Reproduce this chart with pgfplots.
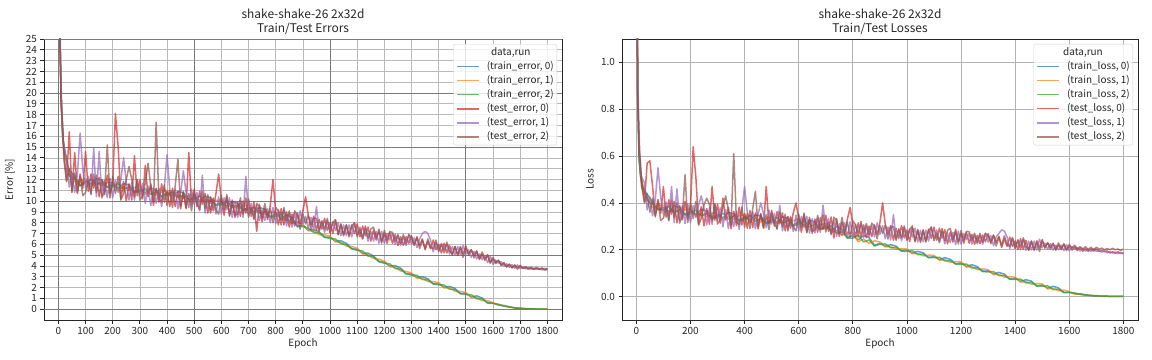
\documentclass[border=0pt]{standalone}
\usepackage{pgfplots}
\usepackage{pgfplotstable}
\pgfplotsset{compat=1.18}
\usepackage{fontspec}
\setmainfont{Noto Sans CJK JP}
\definecolor{c0}{HTML}{1F77B4}
\definecolor{c1}{HTML}{FF7F0E}
\definecolor{c2}{HTML}{2CA02C}
\definecolor{c3}{HTML}{D62728}
\definecolor{c4}{HTML}{9467BD}
\definecolor{c5}{HTML}{8C564B}
\definecolor{txt}{HTML}{262626}

\pgfplotstableread{
e te0 te1 te2 tl0 tl1 tl2
0 45 44 46 1.9 1.85 1.95
5 26 27.5 25.5 0.88 0.93 0.86
10 19.5 20.8 18.6 0.66 0.70 0.62
15 16.8 15.9 17.5 0.55 0.53 0.58
20 14.6 15.2 13.9 0.49 0.51 0.47
30 11.9 13.8 11.8 0.405 0.485 0.40
40 16.4 11.3 13.0 0.57 0.37 0.44
50 10.8 12.6 11.0 0.58 0.425 0.36
60 14.5 10.8 12.6 0.47 0.345 0.42
70 10.8 12.5 10.7 0.345 0.415 0.34
80 12.5 16.3 12.3 0.415 0.55 0.405
90 11.2 12.9 10.5 0.355 0.425 0.325
100 14.6 11.2 10.8 0.47 0.35 0.335
110 10.9 12.3 11.9 0.339 0.404 0.384
120 12.5 10.6 10.7 0.413 0.323 0.328
130 11.2 14.9 12.5 0.352 0.47 0.412
140 12.4 10.4 10.8 0.406 0.316 0.336
150 10.4 14.6 12.2 0.315 0.46 0.40
160 12.0 10.5 10.3 0.389 0.324 0.314
170 10.6 11.9 10.9 0.328 0.388 0.343
180 12.4 10.3 15.2 0.407 0.312 0.52
190 10.7 12.1 10.3 0.331 0.396 0.316
200 11.7 10.3 12.3 0.38 0.315 0.40
210 18.1 11.9 10.7 0.64 0.389 0.334
220 15.0 10.8 12.3 0.51 0.337 0.407
230 10.2 12.0 10.1 0.31 0.39 0.305
240 11.8 14.0 10.7 0.384 0.43 0.334
250 10.0 11.7 12.0 0.302 0.377 0.392
260 11.6 10.1 13.2 0.376 0.306 0.42
270 10.1 11.7 12.0 0.309 0.379 0.394
280 14.2 10.1 10.4 0.47 0.308 0.323
290 10.5 12.0 12.0 0.326 0.396 0.396
300 12.0 10.5 10.1 0.395 0.325 0.31
310 10.2 11.6 10.5 0.314 0.379 0.329
320 13.3 9.8 11.7 0.42 0.298 0.383
330 10.4 11.4 13.5 0.327 0.372 0.43
340 11.6 9.6 11.4 0.381 0.291 0.371
350 9.6 11.0 9.9 0.29 0.355 0.305
360 11.2 9.8 17.3 0.364 0.299 0.61
370 9.9 11.2 10.2 0.303 0.363 0.318
380 11.6 9.5 9.9 0.382 0.287 0.307
390 9.9 11.3 11.5 0.306 0.371 0.381
400 10.9 14.3 9.6 0.355 0.47 0.295
410 9.5 11.1 11.0 0.292 0.359 0.355
420 11.2 10.0 9.4 0.367 0.316 0.291
430 9.5 11.1 11.4 0.295 0.362 0.375
440 10.9 9.3 13.9 0.357 0.29 0.45
450 9.3 10.8 9.5 0.289 0.352 0.297
460 10.8 12.8 10.9 0.351 0.40 0.355
470 9.4 10.8 9.3 0.295 0.354 0.291
480 14.5 9.4 10.7 0.47 0.295 0.35
490 9.7 11.1 9.1 0.311 0.37 0.286
500 11.1 9.7 10.8 0.369 0.31 0.356
510 9.5 10.8 9.8 0.301 0.355 0.313
520 10.9 9.1 9.2 0.363 0.287 0.291
530 9.7 12.4 10.9 0.311 0.39 0.362
540 10.7 8.9 9.3 0.357 0.281 0.298
550 8.9 10.2 10.6 0.281 0.335 0.352
560 10.4 9.1 8.9 0.343 0.288 0.28
570 9.1 10.3 10.2 0.292 0.342 0.338
580 10.7 8.8 9.2 0.358 0.278 0.295
590 12.5 10.4 8.8 0.40 0.348 0.281
600 10.1 8.8 10.5 0.335 0.28 0.352
610 8.7 10.3 9.2 0.275 0.342 0.296
620 10.4 9.2 10.6 0.349 0.298 0.357
630 8.7 10.3 8.6 0.276 0.343 0.272
640 10.1 8.5 9.9 0.338 0.271 0.33
650 8.5 10.0 8.7 0.27 0.333 0.278
660 9.9 8.5 8.8 0.331 0.272 0.285
670 8.6 10.0 10.3 0.275 0.334 0.347
680 10.0 8.5 8.8 0.337 0.274 0.287
690 8.9 12.3 10.3 0.289 0.39 0.348
700 10.2 8.8 8.5 0.347 0.288 0.276
710 8.6 9.8 9.4 0.279 0.333 0.317
720 9.9 8.3 8.4 0.34 0.264 0.268
730 7.2 9.6 9.8 0.25 0.326 0.339
740 9.7 8.2 9.5 0.333 0.257 0.324
750 8.1 9.2 8.4 0.256 0.311 0.269
760 9.3 8.2 9.8 0.317 0.262 0.338
770 8.3 9.3 8.5 0.266 0.316 0.278
780 9.6 8.0 9.3 0.331 0.251 0.318
790 12.0 9.4 8.0 0.38 0.32 0.254
800 9.0 7.9 9.4 0.307 0.252 0.324
810 7.8 9.2 9.1 0.255 0.309 0.306
820 9.3 8.3 7.8 0.315 0.274 0.254
830 7.8 9.2 9.4 0.256 0.311 0.321
840 9.0 7.7 8.2 0.306 0.252 0.272
850 7.6 8.9 9.1 0.251 0.302 0.312
860 8.8 7.6 7.9 0.301 0.253 0.264
870 7.7 8.9 9.1 0.256 0.303 0.314
880 8.9 7.6 8.7 0.306 0.255 0.299
890 7.9 9.1 7.4 0.267 0.315 0.247
900 9.1 7.9 8.8 0.314 0.266 0.304
910 10.4 8.6 7.9 0.40 0.303 0.269
920 8.7 7.5 8.7 0.309 0.247 0.305
930 7.8 8.5 7.4 0.267 0.297 0.246
940 8.6 7.3 8.4 0.303 0.242 0.296
950 7.3 9.5 8.4 0.241 0.35 0.299
960 8.3 7.3 7.2 0.291 0.247 0.24
970 7.4 8.2 8.1 0.249 0.29 0.287
980 8.4 7.1 7.4 0.303 0.238 0.252
990 7.3 8.2 8.4 0.251 0.295 0.302
1000 8.0 7.1 7.1 0.284 0.239 0.243
1010 7.0 8.1 8.0 0.235 0.289 0.286
1020 8.2 7.3 8.3 0.295 0.254 0.302
1030 6.9 8.0 6.9 0.237 0.292 0.234
1040 7.9 6.8 7.8 0.287 0.233 0.281
1050 6.8 7.8 6.9 0.232 0.283 0.239
1060 7.8 6.8 7.8 0.282 0.234 0.285
1070 6.8 7.8 6.7 0.237 0.284 0.233
1080 7.8 6.7 7.7 0.288 0.237 0.281
1090 7.0 8.0 8.0 0.249 0.297 0.297
1100 7.9 6.9 6.7 0.296 0.248 0.238
1110 6.7 7.6 7.4 0.241 0.285 0.271
1120 7.7 6.5 6.5 0.292 0.23 0.234
1130 6.8 7.5 7.7 0.25 0.28 0.291
1140 7.6 6.3 6.6 0.286 0.225 0.239
1150 6.3 7.2 7.4 0.225 0.269 0.283
1160 7.3 6.3 7.6 0.275 0.231 0.292
1170 6.4 7.2 6.6 0.233 0.274 0.243
1180 7.4 6.1 7.2 0.287 0.222 0.276
1190 6.3 7.2 6.1 0.236 0.28 0.225
1200 7.0 6.1 7.3 0.269 0.224 0.282
1210 6.1 7.0 6.4 0.228 0.27 0.241
1220 7.1 6.4 7.2 0.274 0.243 0.279
1230 6.1 7.0 7.1 0.228 0.269 0.277
1240 6.9 6.0 6.3 0.266 0.224 0.24
1250 5.9 6.8 6.9 0.223 0.262 0.27
1260 6.7 5.9 6.1 0.261 0.225 0.232
1270 5.9 6.7 6.9 0.226 0.263 0.27
1280 6.7 5.9 6.1 0.263 0.224 0.232
1290 6.1 6.9 6.9 0.234 0.27 0.27
1300 6.8 6.0 6.6 0.269 0.233 0.261
1310 5.9 6.6 6.0 0.226 0.26 0.234
1320 6.7 5.7 6.6 0.263 0.217 0.261
1330 5.9 6.5 5.6 0.231 0.255 0.216
1340 6.5 7.0 6.4 0.258 0.27 0.253
1350 5.5 7.2 5.6 0.21 0.285 0.218
1360 6.3 7.0 6.5 0.247 0.28 0.26
1370 5.6 6.4 5.7 0.215 0.255 0.223
1380 6.4 5.3 5.6 0.254 0.205 0.215
1390 5.5 6.2 6.4 0.214 0.248 0.253
1400 6.0 5.3 5.4 0.238 0.205 0.207
1410 5.2 6.1 6.0 0.201 0.243 0.24
1420 6.1 5.5 5.2 0.247 0.216 0.20
1430 5.2 6.0 6.2 0.202 0.243 0.251
1440 5.9 5.1 5.4 0.24 0.198 0.214
1450 5.0 5.8 5.1 0.197 0.236 0.202
1460 5.8 5.0 5.8 0.235 0.199 0.238
1470 5.0 5.8 5.0 0.20 0.237 0.198
1480 5.8 5.0 5.7 0.238 0.199 0.233
1490 5.1 5.9 4.8 0.209 0.245 0.193
1500 5.85 5.1 5.7 0.244 0.208 0.236
1510 5.0 5.5 5.1 0.207 0.228 0.212
1520 5.5 4.8 5.5 0.23 0.202 0.229
1530 5.0 5.35 4.75 0.211 0.226 0.202
1540 5.4 4.65 5.3 0.228 0.199 0.225
1550 4.6 5.1 4.7 0.198 0.219 0.203
1560 5.1 4.6 5.3 0.221 0.20 0.229
1570 4.5 5.0 4.65 0.201 0.22 0.206
1580 5.05 4.3 4.95 0.226 0.196 0.222
1590 4.35 4.9 4.25 0.201 0.222 0.197
1600 4.65 4.15 4.8 0.216 0.196 0.223
1610 4.22 4.54 4.32 0.199 0.212 0.208
1620 4.5 4.26 4.54 0.212 0.203 0.219
1630 4.08 4.4 4.06 0.197 0.21 0.203
1640 4.3 3.98 4.26 0.208 0.195 0.213
1650 3.9 4.2 3.94 0.194 0.206 0.203
1660 4.15 3.87 4.17 0.205 0.194 0.213
1670 3.84 4.12 3.82 0.193 0.204 0.20
1680 4.09 3.79 4.05 0.204 0.192 0.211
1690 3.82 4.1 3.7 0.194 0.205 0.198
1700 4.05 3.77 3.99 0.204 0.193 0.211
1710 3.77 3.9 3.8 0.192 0.198 0.203
1720 3.91 3.73 3.9 0.197 0.19 0.207
1730 3.77 3.86 3.7 0.192 0.195 0.20
1740 3.87 3.69 3.86 0.195 0.187 0.205
1750 3.67 3.8 3.7 0.186 0.192 0.20
1760 3.81 3.68 3.86 0.191 0.186 0.206
1770 3.67 3.79 3.7 0.185 0.19 0.20
1780 3.82 3.63 3.78 0.191 0.183 0.203
1790 3.65 3.78 3.62 0.184 0.189 0.197
1800 3.74 3.61 3.78 0.187 0.182 0.203
}\testdata

\pgfplotstableread{
e tre0 tre1 tre2 trl0 trl1 trl2
0 45 44 46 1.9 1.85 1.95
5 26.3 25.8 26.1 0.86 0.84 0.855
10 19.75 20.15 19.7 0.59 0.61 0.585
15 16.6 16.8 16.4 0.525 0.535 0.515
20 14.85 14.7 15.25 0.472 0.465 0.492
40 12.85 12.55 12.3 0.437 0.422 0.41
60 12.3 11.8 12.1 0.405 0.38 0.395
80 11.45 11.85 11.4 0.372 0.392 0.37
100 11.9 12.1 11.7 0.38 0.39 0.37
120 11.61 11.46 12.01 0.364 0.357 0.385
140 12.07 11.77 11.52 0.387 0.372 0.359
160 11.94 11.44 11.74 0.381 0.356 0.371
180 11.31 11.71 11.26 0.351 0.371 0.348
200 11.5 11.7 11.3 0.365 0.375 0.355
220 11.21 11.06 11.61 0.35 0.342 0.37
240 11.63 11.33 11.08 0.372 0.357 0.344
260 11.5 11.0 11.3 0.366 0.341 0.356
280 10.85 11.25 10.8 0.336 0.356 0.333
300 11.1 11.3 10.9 0.35 0.36 0.34
320 10.77 10.62 11.17 0.336 0.328 0.356
340 11.19 10.89 10.64 0.359 0.344 0.331
360 11.06 10.56 10.86 0.354 0.329 0.344
380 10.43 10.83 10.38 0.325 0.345 0.322
400 10.8 11.0 10.6 0.34 0.35 0.33
420 10.47 10.32 10.87 0.326 0.318 0.346
440 10.89 10.59 10.34 0.349 0.334 0.321
460 10.76 10.26 10.56 0.344 0.319 0.334
480 10.13 10.53 10.08 0.315 0.335 0.312
500 10.4 10.6 10.2 0.33 0.34 0.32
520 10.05 9.9 10.45 0.318 0.31 0.338
540 10.45 10.15 9.9 0.34 0.325 0.312
560 10.3 9.8 10.1 0.335 0.31 0.325
580 9.65 10.05 9.6 0.305 0.325 0.302
600 9.9 10.1 9.7 0.32 0.33 0.31
620 9.55 9.4 9.95 0.304 0.296 0.324
640 9.95 9.65 9.4 0.326 0.311 0.298
660 9.8 9.3 9.6 0.319 0.294 0.309
680 9.15 9.55 9.1 0.289 0.309 0.286
700 9.4 9.6 9.2 0.302 0.312 0.292
720 9.03 8.88 9.43 0.282 0.274 0.302
740 9.41 9.11 8.86 0.299 0.284 0.271
760 9.24 8.74 9.04 0.287 0.262 0.277
780 8.57 8.97 8.52 0.252 0.272 0.249
800 8.8 9.0 8.6 0.26 0.27 0.25
820 8.41 8.26 8.81 0.242 0.234 0.262
840 8.72 8.42 8.17 0.261 0.246 0.233
860 8.48 7.98 8.28 0.252 0.227 0.242
880 7.69 8.09 7.64 0.219 0.239 0.216
900 7.75 7.85 7.65 0.228 0.233 0.223
920 7.32 7.25 7.52 0.215 0.212 0.225
940 7.37 7.23 7.1 0.222 0.214 0.208
960 7.15 6.9 7.05 0.215 0.202 0.21
980 6.68 6.88 6.65 0.195 0.205 0.194
1000 6.65 6.75 6.55 0.198 0.203 0.193
1020 6.3 6.23 6.5 0.186 0.183 0.196
1040 6.33 6.19 6.06 0.193 0.185 0.179
1060 6.09 5.84 5.99 0.187 0.174 0.182
1080 5.6 5.8 5.57 0.167 0.177 0.166
1100 5.55 5.65 5.45 0.171 0.176 0.166
1120 5.18 5.11 5.38 0.158 0.155 0.168
1140 5.19 5.05 4.92 0.166 0.158 0.152
1160 4.93 4.68 4.83 0.159 0.146 0.154
1180 4.42 4.62 4.39 0.14 0.15 0.139
1200 4.35 4.45 4.25 0.143 0.148 0.138
1220 4.0 3.93 4.2 0.129 0.126 0.139
1240 4.03 3.89 3.76 0.136 0.128 0.122
1260 3.79 3.54 3.69 0.128 0.115 0.123
1280 3.3 3.5 3.27 0.108 0.118 0.107
1300 3.25 3.35 3.15 0.11 0.115 0.105
1320 2.94 2.87 3.14 0.097 0.094 0.107
1340 3.01 2.87 2.74 0.103 0.095 0.089
1360 2.81 2.56 2.71 0.096 0.083 0.091
1380 2.36 2.56 2.33 0.075 0.085 0.074
1400 2.35 2.45 2.25 0.078 0.083 0.073
1420 2.04 1.97 2.24 0.065 0.062 0.075
1440 2.11 1.97 1.84 0.072 0.064 0.058
1460 1.91 1.66 1.81 0.066 0.053 0.061
1480 1.46 1.66 1.43 0.046 0.056 0.045
1500 1.45 1.55 1.35 0.049 0.054 0.044
1520 1.15 1.08 1.35 0.036 0.033 0.046
1540 1.23 1.09 0.96 0.044 0.036 0.03
1560 1.04 0.79 0.94 0.037 0.024 0.032
1580 0.6 0.8 0.57 0.018 0.028 0.017
1600 0.57 0.6 0.53 0.019 0.021 0.017
1620 0.39 0.37 0.46 0.012 0.011 0.016
1640 0.35 0.31 0.27 0.012 0.01 0.009
1660 0.23 0.18 0.21 0.008 0.006 0.007
1680 0.11 0.14 0.12 0.004 0.005 0.005
1700 0.09 0.1 0.07 0.003 0.004 0.003
1720 0.04 0.05 0.06 0.002 0.002 0.002
1740 0.035 0.03 0.025 0.0015 0.0015 0.0015
1760 0.01 0.02 0.015 0.001 0.001 0.001
1780 0.01 0.005 0.01 0.0008 0.0008 0.0008
1800 0.004 0.006 0.005 0.0005 0.0005 0.0005
}\traindata

\pgfplotsset{
  myaxis/.style={
    scale only axis,
    anchor=south west,
    height=281bp,
    xmin=-53, xmax=1854,
    axis line style={txt, line width=0.8bp},
    tick align=outside,
    tick pos=left,
    major tick length=3.5bp,
    tick style={txt, line width=0.8bp},
    /pgf/number format/assume math mode=true,
    /pgf/number format/1000 sep={},
    tick label style={font=\fontsize{10}{12}\selectfont, text=txt},
    label style={font=\fontsize{10}{12}\selectfont, text=txt},
    title style={font=\fontsize{12}{14}\selectfont, text=txt, align=center,
      at={(axis description cs:0.5,1)}, anchor=south, yshift=-5bp},
    xlabel style={at={(axis description cs:0.5,-0.085)}, anchor=center},
    clip=true,
    legend cell align=left,
    legend image code/.code={\draw[##1, line width=1.5bp] (0bp,0bp) -- (22bp,0bp);},
    legend style={at={(1,1)}, anchor=north east, xshift=-5bp, yshift=-5bp,
      draw=black!18, rounded corners=2bp, fill=white, fill opacity=0.8, text opacity=1,
      font=\fontsize{10}{12}\selectfont, text=txt, inner xsep=3bp, inner ysep=3bp,
      nodes={inner sep=0bp, text height=8bp, text depth=2.3bp},
      row sep=3.8bp, column sep=7bp},
    every axis plot/.append style={line width=1.5bp, line join=round, draw opacity=0.7},
  },
}

\begin{document}
\begin{tikzpicture}
\path[use as bounding box] (0,0) rectangle (1152bp,360bp);
% ---------------- left: errors
\begin{axis}[myaxis,
  at={(44bp,40bp)}, width=518bp,
  ymin=-1, ymax=25,
  xtick={0,100,...,1800}, ytick={0,1,...,25},
  grid=major, major grid style={color=black!27, line width=0.7bp},
  extra x ticks={0,500,1000,1500}, extra y ticks={0,5,10,15,20,25},
  extra x tick labels={}, extra y tick labels={},
  extra tick style={grid=major, major grid style={color=black!52, line width=0.9bp}},
  title={shake-shake-26 2x32d\\Train/Test Errors},
  xlabel={Epoch}, ylabel={Error [\%]},
  ylabel style={at={(axis description cs:-0.066,0.5)}, anchor=center},
]
\addlegendimage{empty legend}\addlegendentry{\hspace*{24bp}\makebox[0pt]{data,run}}
\addplot[c0] table[x=e, y=tre0] {\traindata}; \addlegendentry{(train\_error, 0)}
\addplot[c1] table[x=e, y=tre1] {\traindata}; \addlegendentry{(train\_error, 1)}
\addplot[c2] table[x=e, y=tre2] {\traindata}; \addlegendentry{(train\_error, 2)}
\addplot[c3] table[x=e, y=te0] {\testdata}; \addlegendentry{(test\_error, 0)}
\addplot[c4] table[x=e, y=te1] {\testdata}; \addlegendentry{(test\_error, 1)}
\addplot[c5] table[x=e, y=te2] {\testdata}; \addlegendentry{(test\_error, 2)}
\end{axis}
% ---------------- right: losses
\begin{axis}[myaxis,
  at={(622bp,40bp)}, width=516bp,
  ymin=-0.1, ymax=1.1,
  xtick={0,200,...,1800}, ytick={0,0.2,...,1.0},
  yticklabel style={/pgf/number format/.cd, fixed, fixed zerofill, precision=1},
  grid=major, major grid style={color=black!30, line width=0.8bp},
  title={shake-shake-26 2x32d\\Train/Test Losses},
  xlabel={Epoch}, ylabel={Loss},
  ylabel style={at={(axis description cs:-0.062,0.5)}, anchor=center},
]
\addlegendimage{empty legend}\addlegendentry{\hspace*{16bp}\makebox[0pt]{data,run}}
\addplot[c0] table[x=e, y=trl0] {\traindata}; \addlegendentry{(train\_loss, 0)}
\addplot[c1] table[x=e, y=trl1] {\traindata}; \addlegendentry{(train\_loss, 1)}
\addplot[c2] table[x=e, y=trl2] {\traindata}; \addlegendentry{(train\_loss, 2)}
\addplot[c3] table[x=e, y=tl0] {\testdata}; \addlegendentry{(test\_loss, 0)}
\addplot[c4] table[x=e, y=tl1] {\testdata}; \addlegendentry{(test\_loss, 1)}
\addplot[c5] table[x=e, y=tl2] {\testdata}; \addlegendentry{(test\_loss, 2)}
\end{axis}
\end{tikzpicture}
\end{document}
